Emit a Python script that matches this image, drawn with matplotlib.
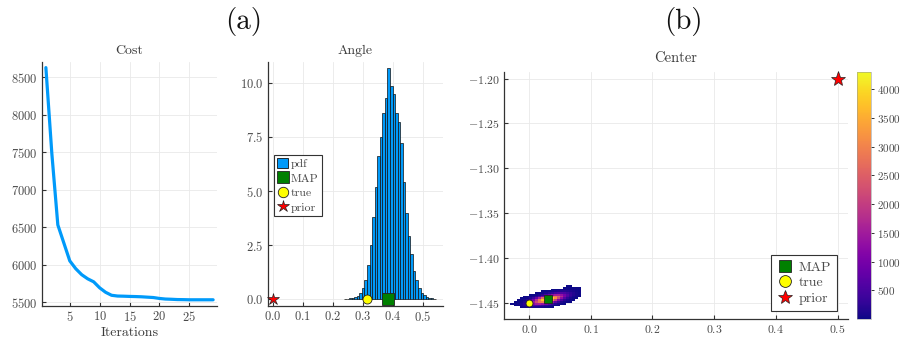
import numpy as np
import matplotlib
matplotlib.use("Agg")
import matplotlib.pyplot as plt
from matplotlib.colors import Normalize
from matplotlib.lines import Line2D
from matplotlib.patches import Patch

plt.rcParams.update({
    "font.family": ["cmr10", "DejaVu Serif"],
    "mathtext.fontset": "cm",
    "axes.formatter.use_mathtext": True,
    "axes.unicode_minus": True,
})

# ---------------- data ----------------
iterations = list(range(1, 30))
cost = [8630, 7480, 6530, 6290, 6050, 5945, 5865, 5810, 5770, 5690,
        5630, 5590, 5580, 5578, 5575, 5573, 5570, 5565, 5560, 5548,
        5540, 5537, 5533, 5532, 5530, 5530, 5530, 5530, 5530]

# posterior density of the angle (histogram, equal-width bins)
angle_bin_start = 0.238
angle_bin_width = 0.0085
angle_pdf = [0.01, 0.02, 0.03, 0.05, 0.08, 0.15, 0.27, 0.5, 0.9, 1.6,
             2.5, 3.8, 5.2, 6.6, 7.5, 8.6, 9.3, 10.7, 9.85, 9.5,
             8.6, 8.2, 7.2, 5.4, 4.0, 2.9, 2.1, 1.3, 0.9, 0.5,
             0.3, 0.18, 0.1, 0.05, 0.03, 0.01]
angle_map = 0.385
angle_true = 0.314
angle_prior = 0.0

# 2-D histogram of the center samples (rows top -> bottom): (first column, counts)
center_x0, center_dx = -0.03, 0.005
center_y_top, center_dy = -1.430, 0.002
n_cols = 23
center_rows = [
    (18, [2, 2]),
    (17, [3, 4, 4, 4, 3, 2]),
    (13, [3, 7, 13, 20, 27, 31, 29, 23, 16, 9]),
    (10, [2, 7, 17, 37, 69, 108, 142, 157, 147, 115, 77, 43, 20]),
    (8, [3, 10, 30, 75, 159, 283, 427, 543, 581, 525, 399, 256, 139, 63, 24]),
    (6, [2, 10, 33, 96, 234, 481, 831, 1211, 1486, 1538, 1342, 986, 611, 319, 141, 52, 16]),
    (4, [1, 6, 24, 80, 224, 527, 1046, 1746, 2459, 2917, 2917, 2459, 1746, 1046, 527, 224, 80, 24, 6]),
    (3, [3, 11, 43, 139, 375, 851, 1627, 2627, 3577, 4097, 3961, 3226, 2214, 1280, 624, 256, 89, 26, 6]),
    (2, [3, 15, 55, 172, 446, 983, 1817, 2833, 3725, 4300, 3853, 3031, 2011, 1127, 533, 211, 70, 20, 5]),
    (1, [3, 14, 51, 152, 384, 814, 1451, 2187, 2780, 2977, 2688, 2044, 1311, 709, 322, 124, 40, 11, 3]),
    (0, [2, 10, 33, 96, 234, 481, 831, 1211, 1486, 1538, 1342, 986, 611, 319, 141, 52, 16, 4]),
    (1, [6, 25, 80, 170, 300, 440, 540, 560, 480, 341, 204, 103, 44, 16, 5]),
    (3, [20, 50, 80, 110, 120, 110, 85, 55, 30, 12, 4]),
]
center_map = (0.031, -1.446)
center_true = (0.0, -1.45)
center_prior = (0.5, -1.2)

# ---------------- style ----------------
BLUE = "#009AFA"
GREEN = "#008000"
YELLOW = "#FFFF00"
RED = "#FF0000"
TXT = "#3a3a3a"
TICK = "#4a4a4a"
GRID = "#e9e9e9"
SPINE = "#333333"


def style_axes(ax, tick_size):
    for side in ("top", "right"):
        ax.spines[side].set_visible(False)
    for side in ("left", "bottom"):
        ax.spines[side].set_color(SPINE)
        ax.spines[side].set_linewidth(0.9)
    ax.grid(True, color=GRID, linewidth=0.6)
    ax.set_axisbelow(True)
    ax.tick_params(direction="in", length=3, width=0.8, color=SPINE,
                   labelsize=tick_size, labelcolor=TICK, pad=3)


fig = plt.figure(figsize=(9.01, 3.39), dpi=100)

# ---------------- Cost ----------------
ax1 = fig.add_axes([42 / 901, 33 / 339, 175 / 901, 244 / 339])
style_axes(ax1, 9)
ax1.plot(iterations, cost, color=BLUE, linewidth=2.3, solid_capstyle="round")
ax1.set_xlim(0.35, 29.65)
ax1.set_ylim(5447, 8705)
ax1.set_xticks([5, 10, 15, 20, 25])
ax1.set_yticks([5500, 6000, 6500, 7000, 7500, 8000, 8500])
ax1.set_title("Cost", fontsize=10, color=TXT, pad=6)
ax1.set_xlabel("Iterations", fontsize=10, color=TXT, labelpad=2)

# ---------------- Angle ----------------
ax2 = fig.add_axes([268 / 901, 33 / 339, 175 / 901, 244 / 339])
style_axes(ax2, 9)
edges = angle_bin_start + angle_bin_width * np.arange(len(angle_pdf))
ax2.bar(edges, angle_pdf, width=angle_bin_width, align="edge", color=BLUE,
        edgecolor="#111111", linewidth=0.5, zorder=2)
ax2.plot([angle_prior], [0], marker="*", ms=9, color=RED, mec="#222222",
         mew=0.5, linestyle="none", clip_on=False, zorder=4)
ax2.plot([angle_true], [0], marker="o", ms=6.5, color=YELLOW, mec="#222222",
         mew=0.6, linestyle="none", clip_on=False, zorder=4)
ax2.plot([angle_map], [0], marker="s", ms=8, color=GREEN, mec="#222222",
         mew=0.6, linestyle="none", clip_on=False, zorder=4)
ax2.set_xlim(-0.016, 0.568)
ax2.set_ylim(-0.32, 10.97)
ax2.set_xticks([0.0, 0.1, 0.2, 0.3, 0.4, 0.5])
ax2.set_yticks([0.0, 2.5, 5.0, 7.5, 10.0])
ax2.set_title("Angle", fontsize=10, color=TXT, pad=6)

h_pdf = Patch(facecolor=BLUE, edgecolor="#111111", linewidth=0.6)
h_map = Line2D([], [], marker="s", ms=8, color=GREEN, mec="#222222", mew=0.6, linestyle="none")
h_true = Line2D([], [], marker="o", ms=7.5, color=YELLOW, mec="#222222", mew=0.6, linestyle="none")
h_prior = Line2D([], [], marker="*", ms=9, color=RED, mec="#222222", mew=0.5, linestyle="none")
leg = ax2.legend([h_pdf, h_map, h_true, h_prior], ["pdf", "MAP", "true", "prior"],
                 loc="upper left", bbox_to_anchor=(0.034, 0.62),
                 prop={"family": "cmr10", "size": 8.5},
                 frameon=True, fancybox=False, framealpha=1, edgecolor="#333333",
                 borderpad=0.3, labelspacing=0.3, handlelength=0.9,
                 handleheight=0.9, handletextpad=0.25, borderaxespad=0)
leg.get_frame().set_linewidth(0.8)
for t in leg.get_texts():
    t.set_color(TICK)

# ---------------- Center ----------------
ax3 = fig.add_axes([504 / 901, 20 / 339, 344 / 901, 247 / 339])
style_axes(ax3, 8.5)
counts = np.zeros((len(center_rows), n_cols))
for i, (start, vals) in enumerate(center_rows):
    counts[i, start:start + len(vals)] = vals
counts = np.ma.masked_equal(counts, 0)
x_edges = center_x0 + center_dx * np.arange(n_cols + 1)
y_edges = center_y_top - center_dy * np.arange(len(center_rows) + 1)
mesh = ax3.pcolormesh(x_edges, y_edges, counts, cmap="plasma",
                      norm=Normalize(vmin=1, vmax=counts.max()), zorder=2)
ax3.plot([center_true[0]], [center_true[1]], marker="o", ms=5, color=YELLOW,
         mec="#222222", mew=0.6, linestyle="none", zorder=4)
ax3.plot([center_map[0]], [center_map[1]], marker="s", ms=5.5, color=GREEN,
         mec="#222222", mew=0.6, linestyle="none", zorder=4)
ax3.plot([center_prior[0]], [center_prior[1]], marker="*", ms=11, color=RED,
         mec="#222222", mew=0.5, linestyle="none", clip_on=False, zorder=4)
ax3.set_xlim(-0.0405, 0.517)
ax3.set_ylim(-1.468, -1.1926)
ax3.set_xticks([0.0, 0.1, 0.2, 0.3, 0.4, 0.5])
ax3.set_yticks([-1.45, -1.40, -1.35, -1.30, -1.25, -1.20])
ax3.set_title("Center", fontsize=10.5, color=TXT, pad=7)

h_map2 = Line2D([], [], marker="s", ms=9, color=GREEN, mec="#222222", mew=0.6, linestyle="none")
h_true2 = Line2D([], [], marker="o", ms=8.5, color=YELLOW, mec="#222222", mew=0.6, linestyle="none")
h_prior2 = Line2D([], [], marker="*", ms=10, color=RED, mec="#222222", mew=0.5, linestyle="none")
leg2 = ax3.legend([h_map2, h_true2, h_prior2], ["MAP", "true", "prior"],
                  loc="lower right", bbox_to_anchor=(0.968, 0.032),
                  prop={"family": "cmr10", "size": 10},
                  frameon=True, fancybox=False, framealpha=1, edgecolor="#333333",
                  borderpad=0.45, labelspacing=0.2, handlelength=1.2,
                  handletextpad=0.35, borderaxespad=0)
leg2.get_frame().set_linewidth(0.8)
for t in leg2.get_texts():
    t.set_color(TICK)

cax = fig.add_axes([857 / 901, 20 / 339, 14 / 901, 247 / 339])
cb = fig.colorbar(mesh, cax=cax, ticks=[500, 1000, 1500, 2000, 2500, 3000, 3500, 4000])
cb.outline.set_linewidth(0.4)
cb.outline.set_edgecolor("#999999")
cax.tick_params(direction="out", length=2.5, width=0.7, color=SPINE,
                labelsize=8, labelcolor=TICK, pad=1.5)

# ---------------- panel labels ----------------
fig.text(244 / 901, 1 - 21 / 339, "(a)", fontsize=21, color="#111111", ha="center", va="center")
fig.text(683 / 901, 1 - 21 / 339, "(b)", fontsize=21, color="#111111", ha="center", va="center")

fig.savefig("out.png", dpi=100)
